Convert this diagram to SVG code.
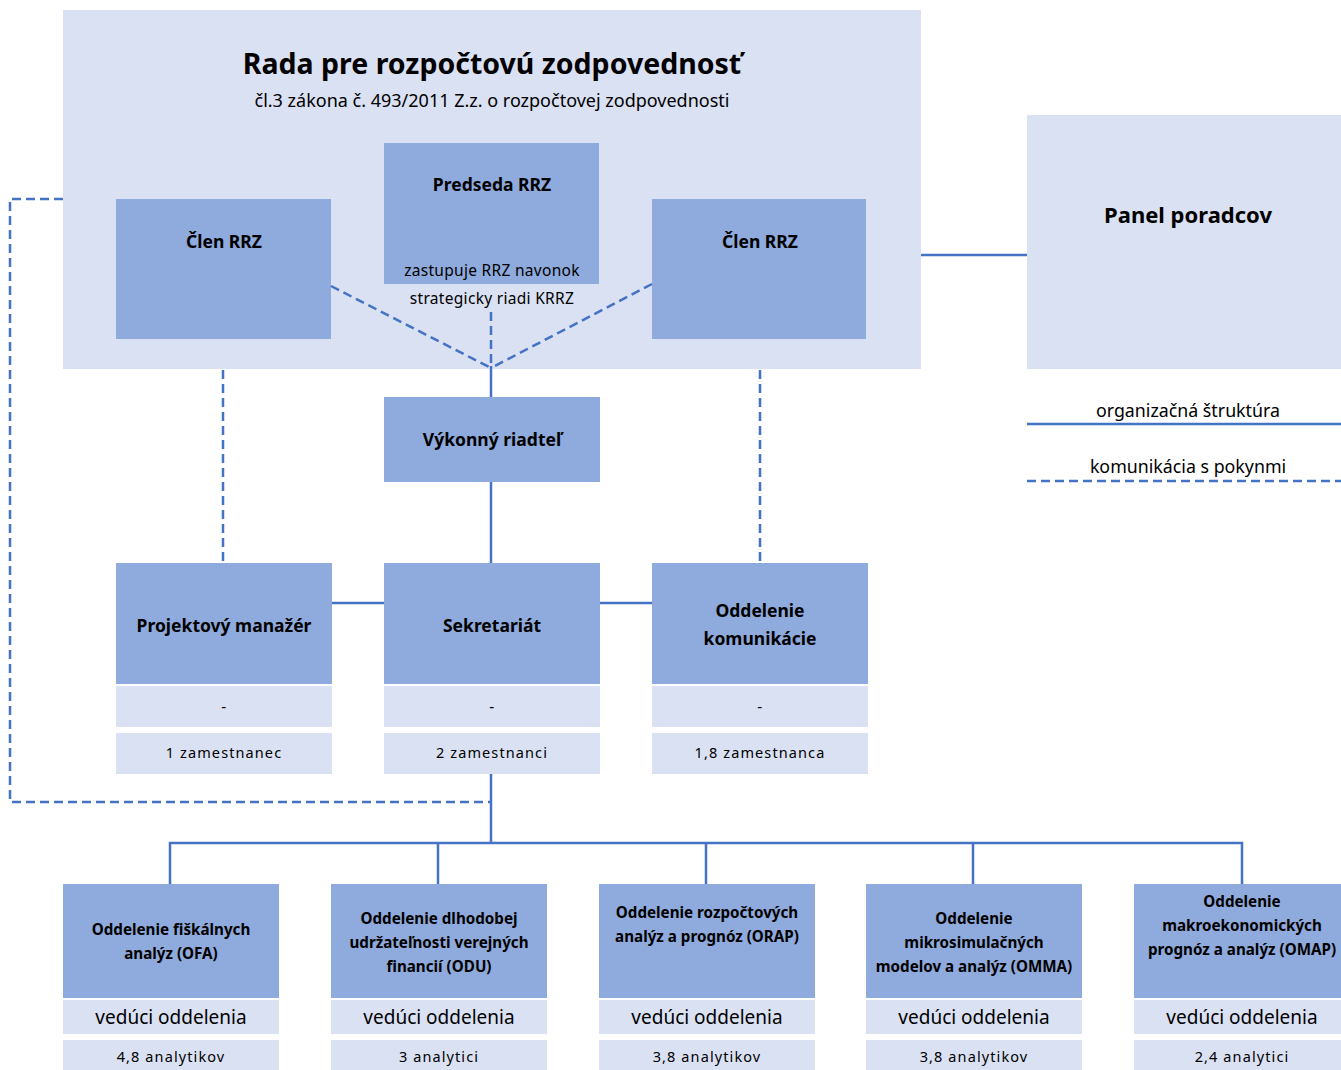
<svg xmlns="http://www.w3.org/2000/svg" width="1341" height="1070" viewBox="0 0 1341 1070">
<style>
.lt{fill:#DAE1F3}
.dk{fill:#8FAADC}
text{font-family:"Noto Sans","Open Sans","DejaVu Sans",sans-serif;fill:#000;text-anchor:middle}
.b{font-weight:bold;font-size:17.5px}
.bs{font-weight:bold;font-size:15.2px}
.r{font-size:15.5px;letter-spacing:0.3px}
.cnt{font-size:14.5px;letter-spacing:1.1px}
.ved{font-size:19px}
.sol{stroke:#4472C4;stroke-width:2.5;fill:none}
.das{stroke:#4472C4;stroke-width:2.5;fill:none;stroke-dasharray:9 5}
</style>
<rect width="1341" height="1070" fill="#fff"/>
<g id="rrz">
<rect class="lt" x="63" y="10" width="858" height="359"/>
<text x="492" y="74" style="font-weight:bold;font-size:28.5px">Rada pre rozpočtovú zodpovednosť</text>
<text x="492" y="107" style="font-size:18px">čl.3 zákona č. 493/2011 Z.z. o rozpočtovej zodpovednosti</text>
</g>
<g id="predseda">
<rect class="dk" x="384" y="143" width="215" height="141"/>
<text class="b" x="492" y="191">Predseda RRZ</text>
<text class="r" x="492" y="276">zastupuje RRZ navonok</text>
<text class="r" x="492" y="304">strategicky riadi KRRZ</text>
</g>
<g id="clen1">
<rect class="dk" x="116" y="199" width="215" height="140"/>
<text class="b" x="224" y="248">Člen RRZ</text>
</g>
<g id="clen2">
<rect class="dk" x="652" y="199" width="214" height="140"/>
<text class="b" x="760" y="248">Člen RRZ</text>
</g>
<g id="panel">
<rect class="lt" x="1027" y="115" width="314" height="254"/>
<text x="1188" y="223" style="font-weight:bold;font-size:22px">Panel poradcov</text>
</g>
<g id="legend">
<text x="1188" y="417" style="font-size:17.8px">organizačná štruktúra</text>
<text x="1188" y="473" style="font-size:17.8px">komunikácia s pokynmi</text>
<line class="sol" x1="1027" y1="424" x2="1341" y2="424"/>
<line class="das" x1="1027" y1="481" x2="1341" y2="481"/>
</g>
<g id="vykonny">
<rect class="dk" x="384" y="397" width="216" height="85"/>
<text class="b" x="492" y="446">Výkonný riadteľ</text>
</g>
<g id="projekt">
<rect class="dk" x="116" y="563" width="216" height="121"/>
<rect class="lt" x="116" y="686" width="216" height="41"/>
<rect class="lt" x="116" y="733" width="216" height="41"/>
<text class="b" x="224" y="632">Projektový manažér</text>
<text class="r" x="224" y="712">-</text>
<text class="cnt" x="224" y="758">1 zamestnanec</text>
</g>
<g id="sekretariat">
<rect class="dk" x="384" y="563" width="216" height="121"/>
<rect class="lt" x="384" y="686" width="216" height="41"/>
<rect class="lt" x="384" y="733" width="216" height="41"/>
<text class="b" x="492" y="632">Sekretariát</text>
<text class="r" x="492" y="712">-</text>
<text class="cnt" x="492" y="758">2 zamestnanci</text>
</g>
<g id="komunikacia">
<rect class="dk" x="652" y="563" width="216" height="121"/>
<rect class="lt" x="652" y="686" width="216" height="41"/>
<rect class="lt" x="652" y="733" width="216" height="41"/>
<text class="b" x="760" y="617">Oddelenie</text>
<text class="b" x="760" y="645">komunikácie</text>
<text class="r" x="760" y="712">-</text>
<text class="cnt" x="760" y="758">1,8 zamestnanca</text>
</g>
<g id="ofa">
<rect class="dk" x="63" y="884" width="216" height="114"/>
<rect class="lt" x="63" y="1000" width="216" height="34"/>
<rect class="lt" x="63" y="1040" width="216" height="30"/>
<text class="bs" x="171" y="935">Oddelenie fiškálnych</text>
<text class="bs" x="171" y="959">analýz (OFA)</text>
<text class="ved" x="171" y="1024">vedúci oddelenia</text>
<text class="cnt" x="171" y="1062">4,8 analytikov</text>
</g>
<g id="odu">
<rect class="dk" x="331" y="884" width="216" height="114"/>
<rect class="lt" x="331" y="1000" width="216" height="34"/>
<rect class="lt" x="331" y="1040" width="216" height="30"/>
<text class="bs" x="439" y="924">Oddelenie dlhodobej</text>
<text class="bs" x="439" y="948">udržateľnosti verejných</text>
<text class="bs" x="439" y="972">financií (ODU)</text>
<text class="ved" x="439" y="1024">vedúci oddelenia</text>
<text class="cnt" x="439" y="1062">3 analytici</text>
</g>
<g id="orap">
<rect class="dk" x="599" y="884" width="216" height="114"/>
<rect class="lt" x="599" y="1000" width="216" height="34"/>
<rect class="lt" x="599" y="1040" width="216" height="30"/>
<text class="bs" x="707" y="918">Oddelenie rozpočtových</text>
<text class="bs" x="707" y="942">analýz a prognóz (ORAP)</text>
<text class="ved" x="707" y="1024">vedúci oddelenia</text>
<text class="cnt" x="707" y="1062">3,8 analytikov</text>
</g>
<g id="omma">
<rect class="dk" x="866" y="884" width="216" height="114"/>
<rect class="lt" x="866" y="1000" width="216" height="34"/>
<rect class="lt" x="866" y="1040" width="216" height="30"/>
<text class="bs" x="974" y="924">Oddelenie</text>
<text class="bs" x="974" y="948">mikrosimulačných</text>
<text class="bs" x="974" y="972">modelov a analýz (OMMA)</text>
<text class="ved" x="974" y="1024">vedúci oddelenia</text>
<text class="cnt" x="974" y="1062">3,8 analytikov</text>
</g>
<g id="omap">
<rect class="dk" x="1134" y="884" width="207" height="114"/>
<rect class="lt" x="1134" y="1000" width="207" height="34"/>
<rect class="lt" x="1134" y="1040" width="207" height="30"/>
<text class="bs" x="1242" y="907">Oddelenie</text>
<text class="bs" x="1242" y="931">makroekonomických</text>
<text class="bs" x="1242" y="955">prognóz a analýz (OMAP)</text>
<text class="ved" x="1242" y="1024">vedúci oddelenia</text>
<text class="cnt" x="1242" y="1062">2,4 analytici</text>
</g>
<g id="connectors">
<line class="das" x1="331" y1="286" x2="491" y2="368"/>
<line class="das" x1="652" y1="284" x2="491" y2="368"/>
<line class="das" x1="491" y1="312" x2="491" y2="368"/>
<line class="sol" x1="491" y1="366" x2="491" y2="397"/>
<line class="sol" x1="491" y1="482" x2="491" y2="563"/>
<line class="das" x1="223" y1="370" x2="223" y2="563"/>
<line class="das" x1="760" y1="370" x2="760" y2="563"/>
<line class="sol" x1="332" y1="603" x2="384" y2="603"/>
<line class="sol" x1="600" y1="603" x2="652" y2="603"/>
<line class="sol" x1="921" y1="255" x2="1027" y2="255"/>
<polyline class="das" points="63,199 10,199 10,802 491,802"/>
<line class="sol" x1="491" y1="774" x2="491" y2="843"/>
<polyline class="sol" points="170,884 170,843 1242,843 1242,884"/>
<line class="sol" x1="438" y1="843" x2="438" y2="884"/>
<line class="sol" x1="706" y1="843" x2="706" y2="884"/>
<line class="sol" x1="973" y1="843" x2="973" y2="884"/>
</g>
</svg>
